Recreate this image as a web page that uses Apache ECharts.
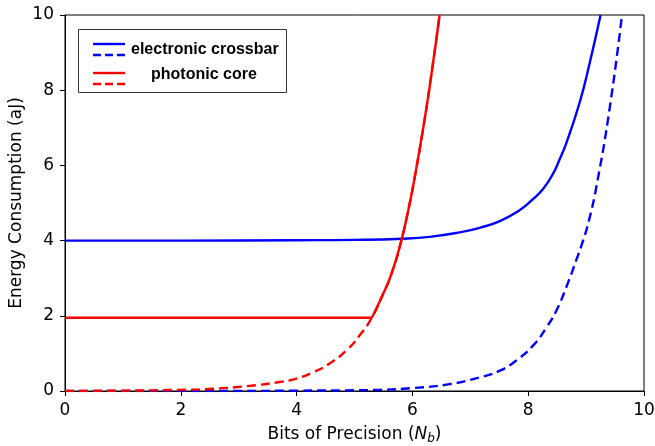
<!DOCTYPE html>
<html>
<head>
<meta charset="utf-8">
<script src="https://cdn.jsdelivr.net/npm/echarts@6/dist/echarts.min.js"></script>
<style>
  html, body { margin: 0; padding: 0; background: #fff; }
  #chart { width: 655px; height: 446px; }
</style>
</head>
<body>
<div id="chart"></div>
<script>
// values, [bits, energy aJ]
const electronicTotal = [[0, 4.0], [2, 4.0], [4, 4.01], [5, 4.02], [5.83, 4.05], [6.3, 4.1], [6.82, 4.22],
  [7.16, 4.34], [7.51, 4.52], [7.85, 4.81], [8.08, 5.1], [8.26, 5.38], [8.43, 5.78], [8.54, 6.15], [8.66, 6.6],
  [8.89, 7.68], [9.06, 8.71], [9.25, 10]];
const electronicDyn = [[0, 0], [3, 0], [4, 0.01], [5, 0.02], [5.44, 0.03], [6.01, 0.08], [6.59, 0.17], [7.16, 0.36],
  [7.51, 0.54], [7.8, 0.82], [8.08, 1.2], [8.32, 1.7], [8.49, 2.15], [8.66, 2.77], [8.83, 3.48], [8.95, 4.01],
  [9.05, 4.54], [9.18, 5.45], [9.41, 7.55], [9.62, 10]];
const photonicFlat = [[0, 1.95], [5.3, 1.95]];
const photonicRise = [[5.3, 1.95], [5.47, 2.5], [5.64, 3.12], [5.81, 4.01], [5.94, 4.89], [6.01, 5.43], [6.19, 7.02],
  [6.33, 8.44], [6.47, 10]];
const photonicDyn = [[0, 0], [1, 0.01], [1.99, 0.03], [2.56, 0.06], [3.14, 0.13], [3.71, 0.24], [4.0, 0.33], [4.29, 0.5],
  [4.57, 0.73], [4.86, 1.08], [5.09, 1.48], [5.3, 1.95], [5.47, 2.5], [5.64, 3.12], [5.81, 4.01], [5.94, 4.89],
  [6.01, 5.43], [6.19, 7.02], [6.33, 8.44], [6.47, 10]];
const xTicks = [0, 2, 4, 6, 8, 10];
const yTicks = [0, 2, 4, 6, 8, 10];

const BLUE = '#0000ff', RED = '#ff0000';
const tickFont = { fontFamily: 'DejaVu Sans', fontSize: 17, color: '#000' };

const chart = echarts.init(document.getElementById('chart'), null, { renderer: 'canvas' });

function line(data, color, dashed, z, smooth) {
  return {
    type: 'line', data: data, showSymbol: false, symbol: 'none', z: z,
    smooth: smooth, clip: true,
    lineStyle: { color: color, width: 2.4, type: dashed ? [9, 5] : 'solid', cap: 'butt', join: 'round' }
  };
}

chart.setOption({
  animation: false,
  grid: {
    left: 65, right: 11, top: 15, bottom: 55, outerBoundsMode: 'none', containLabel: false,
    show: true, borderColor: '#000', borderWidth: 1, backgroundColor: 'transparent'
  },
  xAxis: {
    type: 'value', min: xTicks[0], max: xTicks[xTicks.length - 1], interval: 2,
    name: '{t|Bits of Precision (}{i|N}{s|b}{t|)}', nameLocation: 'middle', nameGap: 33, nameMoveOverlap: false,
    nameTextStyle: {
      rich: {
        t: { fontFamily: 'DejaVu Sans', fontSize: 17, color: '#000' },
        i: { fontFamily: 'DejaVu Sans', fontStyle: 'italic', fontSize: 17, color: '#000' },
        s: { fontFamily: 'DejaVu Sans', fontStyle: 'italic', fontSize: 12, color: '#000', verticalAlign: 'bottom', padding: [9, 0, 0, 0] }
      }
    },
    axisLine: { lineStyle: { color: '#000', width: 1 } },
    axisTick: { show: true, inside: false, length: 5, lineStyle: { color: '#000' } },
    axisLabel: Object.assign({ margin: 11 }, tickFont),
    splitLine: { show: false }
  },
  yAxis: {
    type: 'value', min: yTicks[0], max: yTicks[yTicks.length - 1], interval: 2,
    name: 'Energy Consumption (aJ)', nameLocation: 'middle', nameGap: 40, nameMoveOverlap: false,
    nameTextStyle: { fontFamily: 'DejaVu Sans', fontSize: 17, color: '#000' },
    axisLine: { show: true, lineStyle: { color: '#000', width: 1 } },
    axisTick: { show: true, inside: false, length: 5, lineStyle: { color: '#000' } },
    axisLabel: Object.assign({ margin: 11 }, tickFont),
    splitLine: { show: false }
  },
  series: [
    line(electronicDyn, BLUE, true, 2, 0.5),
    line(electronicTotal, BLUE, false, 3, 0.5),
    line(photonicDyn, RED, true, 4, 0.5),
    line(photonicFlat, RED, false, 5, false),
    line(photonicRise, RED, false, 5, 0.5)
  ],
  graphic: [
    { type: 'rect', shape: { x: 78.5, y: 29.5, width: 208, height: 63 }, style: { fill: '#fff', stroke: '#333', lineWidth: 1 }, z: 10 },
    { type: 'line', shape: { x1: 93, y1: 44, x2: 125, y2: 44 }, style: { stroke: BLUE, lineWidth: 2.4 }, z: 11 },
    { type: 'line', shape: { x1: 93, y1: 55, x2: 125, y2: 55 }, style: { stroke: BLUE, lineWidth: 2.4, lineDash: [8, 4] }, z: 11 },
    { type: 'line', shape: { x1: 93, y1: 73, x2: 125, y2: 73 }, style: { stroke: RED, lineWidth: 2.4 }, z: 11 },
    { type: 'line', shape: { x1: 93, y1: 84, x2: 125, y2: 84 }, style: { stroke: RED, lineWidth: 2.4, lineDash: [8, 4] }, z: 11 },
    { type: 'text', x: 131, y: 50, style: { text: 'electronic crossbar', font: 'bold 16px "Liberation Sans"', fill: '#000', textVerticalAlign: 'middle' }, z: 11 },
    { type: 'text', x: 151, y: 75, style: { text: 'photonic core', font: 'bold 16px "Liberation Sans"', fill: '#000', textVerticalAlign: 'middle' }, z: 11 }
  ]
});
</script>
</body>
</html>
